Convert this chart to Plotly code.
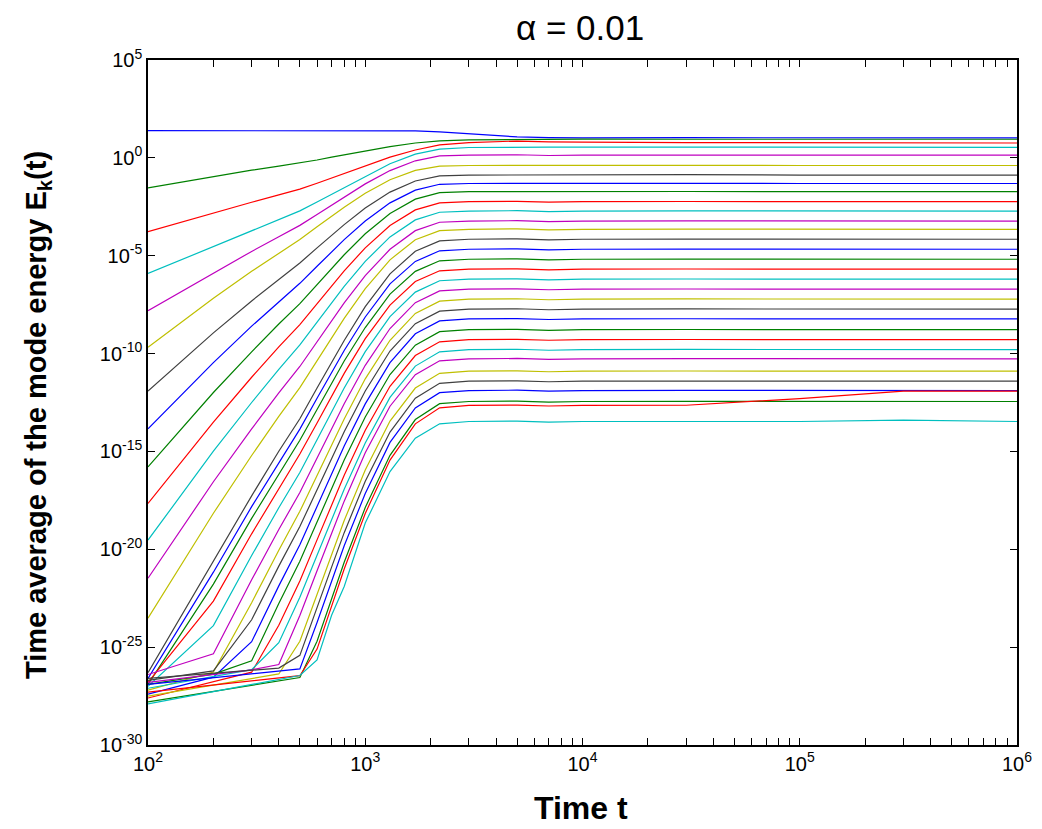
import plotly.graph_objects as go

# time samples (shared knots)
t_knots = [100, 200, 300, 400, 500, 600, 700, 800, 1000, 1300, 1700, 2200, 3000,
           5000, 7000, 10000, 30000, 100000, 300000, 1000000]

# log10 of the time-averaged mode energy, one list per mode
logE_01 = [1.39, 1.39, 1.39, 1.39, 1.39, 1.39, 1.39, 1.39, 1.39, 1.39, 1.38, 1.33, 1.22, 1.07, 1.03, 1.02, 1.03, 1.02, 1.02, 1.02]
logE_02 = [-1.53, -0.95, -0.63, -0.42, -0.26, -0.11, 0.04, 0.16, 0.36, 0.57, 0.76, 0.87, 0.92, 0.95, 0.96, 0.96, 0.95, 0.96, 0.95, 0.95]
logE_03 = [-3.77, -2.81, -2.27, -1.89, -1.60, -1.30, -1.03, -0.79, -0.39, 0.04, 0.40, 0.66, 0.78, 0.86, 0.82, 0.80, 0.78, 0.77, 0.76, 0.76]
logE_04 = [-5.91, -4.54, -3.73, -3.16, -2.71, -2.26, -1.87, -1.50, -0.93, -0.30, 0.19, 0.45, 0.53, 0.56, 0.55, 0.55, 0.54, 0.55, 0.54, 0.54]
logE_05 = [-7.81, -5.88, -4.78, -4.03, -3.45, -2.89, -2.41, -1.99, -1.33, -0.65, -0.15, 0.10, 0.14, 0.16, 0.12, 0.14, 0.15, 0.14, 0.14, 0.14]
logE_06 = [-9.68, -7.17, -5.80, -4.86, -4.17, -3.52, -2.98, -2.52, -1.81, -1.12, -0.64, -0.42, -0.39, -0.38, -0.40, -0.39, -0.38, -0.39, -0.39, -0.39]
logE_07 = [-11.92, -8.94, -7.31, -6.19, -5.37, -4.60, -3.96, -3.41, -2.56, -1.75, -1.18, -0.92, -0.88, -0.87, -0.90, -0.88, -0.86, -0.88, -0.88, -0.88]
logE_08 = [-13.84, -10.46, -8.60, -7.34, -6.41, -5.54, -4.81, -4.18, -3.23, -2.30, -1.65, -1.35, -1.31, -1.30, -1.33, -1.31, -1.30, -1.31, -1.31, -1.31]
logE_09 = [-15.79, -11.99, -9.91, -8.49, -7.45, -6.47, -5.65, -4.95, -3.88, -2.84, -2.11, -1.78, -1.73, -1.72, -1.75, -1.73, -1.72, -1.73, -1.73, -1.73]
logE_10 = [-17.66, -13.50, -11.21, -9.66, -8.52, -7.45, -6.55, -5.77, -4.60, -3.46, -2.66, -2.30, -2.24, -2.22, -2.26, -2.24, -2.23, -2.24, -2.24, -2.24]
logE_11 = [-19.53, -14.99, -12.50, -10.81, -9.56, -8.39, -7.41, -6.57, -5.29, -4.04, -3.17, -2.78, -2.72, -2.70, -2.75, -2.72, -2.71, -2.72, -2.72, -2.72]
logE_12 = [-21.48, -16.55, -13.85, -12.01, -10.66, -9.39, -8.33, -7.41, -6.02, -4.67, -3.72, -3.29, -3.23, -3.21, -3.26, -3.23, -3.22, -3.23, -3.23, -3.23]
logE_13 = [-23.52, -18.16, -15.21, -13.21, -11.74, -10.35, -9.19, -8.20, -6.68, -5.21, -4.18, -3.72, -3.65, -3.63, -3.68, -3.65, -3.64, -3.65, -3.65, -3.65]
logE_14 = [-26.30, -20.59, -17.27, -14.99, -13.33, -11.76, -10.46, -9.33, -7.60, -5.93, -4.77, -4.24, -4.16, -4.14, -4.19, -4.16, -4.15, -4.16, -4.16, -4.16]
logE_15 = [-26.60, -21.17, -17.82, -15.55, -13.86, -12.28, -10.98, -9.84, -8.13, -6.44, -5.29, -4.75, -4.67, -4.65, -4.70, -4.67, -4.66, -4.67, -4.67, -4.67]
logE_16 = [-26.90, -21.78, -18.42, -16.14, -14.43, -12.86, -11.54, -10.38, -8.67, -6.96, -5.80, -5.26, -5.18, -5.16, -5.21, -5.18, -5.17, -5.18, -5.18, -5.18]
logE_17 = [-26.80, -22.65, -19.21, -16.88, -15.13, -13.55, -12.19, -11.01, -9.24, -7.52, -6.32, -5.77, -5.69, -5.67, -5.72, -5.69, -5.68, -5.69, -5.69, -5.69]
logE_18 = [-27.00, -23.90, -20.32, -17.88, -16.08, -14.39, -12.97, -11.76, -9.90, -8.11, -6.86, -6.28, -6.20, -6.18, -6.23, -6.20, -6.19, -6.20, -6.20, -6.20]
logE_19 = [-26.40, -25.34, -21.56, -18.99, -17.10, -15.35, -13.85, -12.56, -10.60, -8.72, -7.40, -6.80, -6.71, -6.69, -6.74, -6.71, -6.70, -6.71, -6.71, -6.71]
logE_20 = [-27.20, -26.27, -22.73, -20.05, -18.06, -16.22, -14.67, -13.34, -11.29, -9.32, -7.95, -7.32, -7.22, -7.20, -7.25, -7.22, -7.21, -7.22, -7.22, -7.22]
logE_21 = [-26.70, -26.21, -23.60, -20.86, -18.84, -16.96, -15.37, -13.99, -11.91, -9.87, -8.47, -7.83, -7.73, -7.71, -7.76, -7.73, -7.72, -7.73, -7.73, -7.73]
logE_22 = [-27.40, -26.53, -24.72, -21.87, -19.77, -17.81, -16.15, -14.72, -12.57, -10.46, -8.99, -8.33, -8.23, -8.21, -8.26, -8.23, -8.22, -8.23, -8.23, -8.23]
logE_23 = [-26.90, -26.38, -25.70, -22.77, -20.61, -18.61, -16.90, -15.44, -13.24, -11.07, -9.57, -8.88, -8.78, -8.76, -8.81, -8.78, -8.77, -8.78, -8.78, -8.78]
logE_24 = [-27.60, -26.77, -26.28, -23.88, -21.62, -19.52, -17.75, -16.22, -13.92, -11.67, -10.10, -9.40, -9.29, -9.27, -9.32, -9.29, -9.28, -9.29, -9.29, -9.29]
logE_25 = [-27.10, -26.50, -26.15, -24.77, -22.45, -20.30, -18.47, -16.93, -14.57, -12.24, -10.64, -9.91, -9.80, -9.78, -9.83, -9.80, -9.79, -9.80, -9.80, -9.80]
logE_26 = [-26.80, -26.40, -26.16, -25.89, -23.38, -21.10, -19.17, -17.54, -15.07, -12.69, -11.08, -10.37, -10.27, -10.25, -10.30, -10.27, -10.26, -10.27, -10.27, -10.27]
logE_27 = [-27.50, -26.94, -26.61, -26.37, -24.70, -22.30, -20.27, -18.53, -15.95, -13.45, -11.76, -11.01, -10.90, -10.88, -10.93, -10.90, -10.89, -10.90, -10.90, -10.90]
logE_28 = [-26.60, -26.33, -26.18, -26.07, -25.42, -22.94, -20.91, -19.15, -16.52, -14.01, -12.28, -11.52, -11.41, -11.39, -11.44, -11.41, -11.40, -11.41, -11.41, -11.41]
logE_29 = [-26.90, -26.56, -26.36, -26.22, -26.11, -23.74, -21.62, -19.82, -17.15, -14.54, -12.78, -12.00, -11.89, -11.87, -11.92, -11.89, -11.88, -11.89, -11.89, -11.89]
logE_30 = [-27.80, -27.26, -26.95, -26.72, -26.55, -24.70, -22.54, -20.66, -17.87, -15.20, -13.37, -12.56, -12.45, -12.43, -12.48, -12.45, -12.44, -12.45, -12.45, -12.45]
logE_31 = [-27.30, -26.94, -26.72, -26.57, -26.46, -25.10, -22.91, -21.01, -18.17, -15.44, -13.59, -12.77, -12.65, -12.63, -12.68, -12.65, -12.64, -12.30, -11.92, -11.92]
logE_32 = [-27.90, -27.27, -26.91, -26.65, -26.45, -25.65, -23.37, -21.90, -18.66, -16.03, -14.32, -13.59, -13.47, -13.45, -13.50, -13.47, -13.46, -13.47, -13.40, -13.47]

modes = [logE_01, logE_02, logE_03, logE_04, logE_05, logE_06, logE_07, logE_08,
         logE_09, logE_10, logE_11, logE_12, logE_13, logE_14, logE_15, logE_16,
         logE_17, logE_18, logE_19, logE_20, logE_21, logE_22, logE_23, logE_24,
         logE_25, logE_26, logE_27, logE_28, logE_29, logE_30, logE_31, logE_32]

# MATLAB classic colour order
color_order = ["#0000FF", "#008000", "#FF0000", "#00BFBF", "#BF00BF", "#BFBF00", "#404040"]

# axis ticks
x_decades = [2, 3, 4, 5, 6]
y_decades = [-30, -25, -20, -15, -10, -5, 0, 5]

x_tickvals, x_ticktext = [], []
for d in x_decades:
    for m in range(1, 10):
        if d == 6 and m > 1:
            break
        x_tickvals.append(m * 10 ** d)
        x_ticktext.append("10<sup>%d</sup>" % d if m == 1 else "")
y_tickvals = [10.0 ** d for d in y_decades]
y_ticktext = ["10<sup>%d</sup>" % d for d in y_decades]

fig = go.Figure()
for k, arr in enumerate(modes):
    fig.add_trace(go.Scatter(
        x=t_knots, y=[10 ** v for v in arr], mode="lines",
        line=dict(color=color_order[k % 7], width=1.2),
        showlegend=False, hoverinfo="skip"))

font_family = "Liberation Sans, Arial, sans-serif"
axis_common = dict(
    type="log", showgrid=False, zeroline=False, automargin=False,
    showline=True, linecolor="black", linewidth=1.5, mirror="allticks",
    ticks="inside", ticklen=7, tickwidth=1.2, tickcolor="black",
    tickfont=dict(family=font_family, size=20, color="black"),
)

# the page body adds an 8 px offset, so the figure is sized/margined to compensate
fig.update_layout(
    width=1034, height=821,
    margin=dict(l=140, r=25, t=52, b=84, autoexpand=False),
    paper_bgcolor="white", plot_bgcolor="white",
    xaxis=dict(axis_common, range=[2, 6], tickmode="array",
               tickvals=x_tickvals, ticktext=x_ticktext),
    yaxis=dict(axis_common, range=[-30, 5], tickmode="array",
               tickvals=y_tickvals, ticktext=y_ticktext),
    annotations=[
        dict(text="α = 0.01", xref="paper", yref="paper",
             x=(580 - 148) / 869, y=(745 - 27) / 685, xanchor="center", yanchor="middle",
             showarrow=False, font=dict(family=font_family, size=35, color="black")),
        dict(text="Time t", xref="paper", yref="paper",
             x=(581 - 148) / 869, y=(745 - 808) / 685, xanchor="center", yanchor="middle",
             showarrow=False, font=dict(family=font_family, size=32, color="black", weight="bold")),
        dict(text="Time average of the mode energy E<sub>k</sub>(t)", xref="paper", yref="paper",
             x=(38 - 148) / 869, y=(745 - 415) / 685, xanchor="center", yanchor="middle",
             textangle=-90, showarrow=False,
             font=dict(family=font_family, size=29, color="black", weight="bold")),
    ],
)

fig.write_html("out.html")
